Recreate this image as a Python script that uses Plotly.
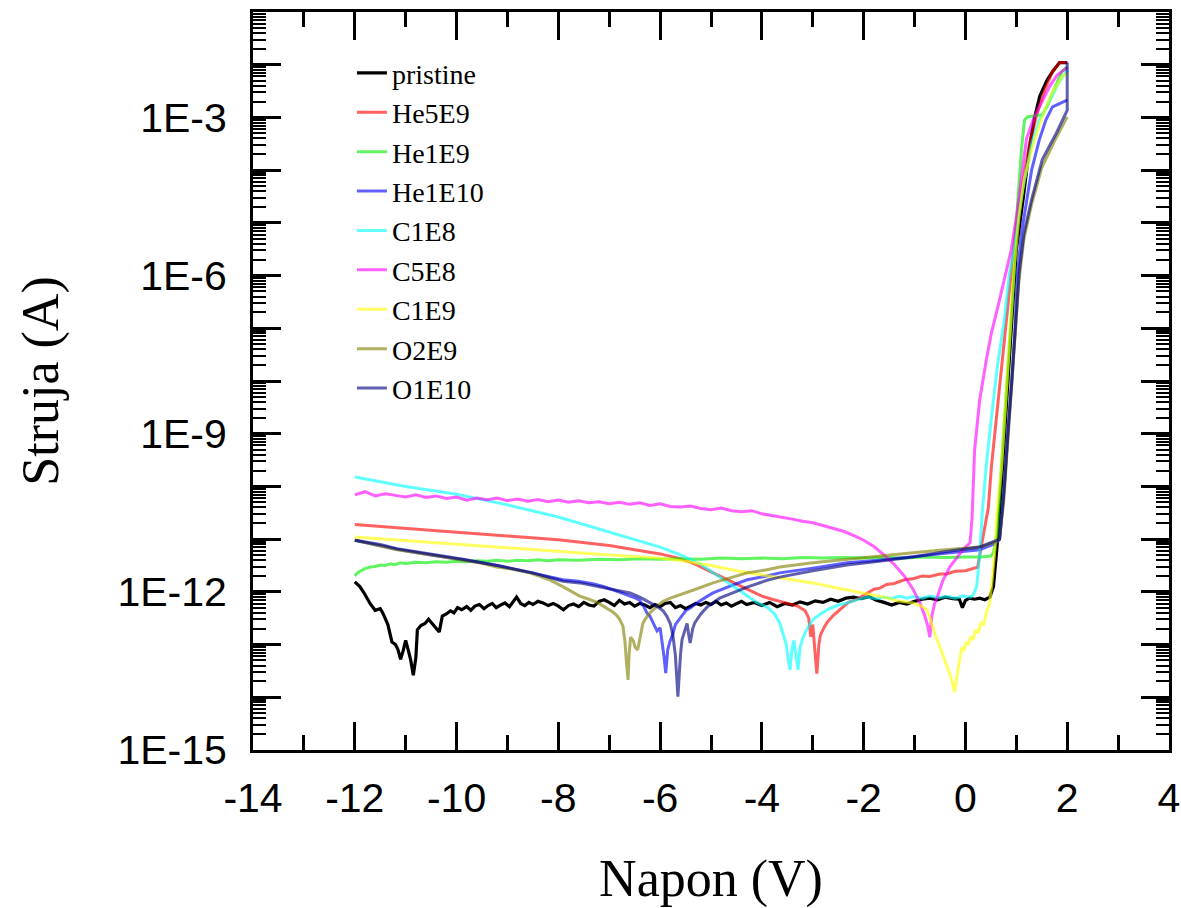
import plotly.graph_objects as go

# ---------------- data: (voltage V, log10 of current A) ----------------
pristine_logI = [
(-12.0,-11.81),(-11.9,-11.9),(-11.8,-12.05),(-11.7,-12.22),(-11.6,-12.35),(-11.5,-12.32),(-11.45,-12.4),(-11.35,-12.62),
(-11.27,-12.95),(-11.2,-13.0),(-11.15,-13.1),(-11.1,-13.28),(-11.05,-13.12),(-11.0,-12.92),(-10.95,-13.1),(-10.9,-13.3),
(-10.85,-13.58),(-10.8,-13.25),(-10.77,-12.72),(-10.7,-12.64),(-10.62,-12.6),(-10.55,-12.52),(-10.48,-12.6),(-10.4,-12.68),
(-10.34,-12.76),(-10.28,-12.46),(-10.2,-12.42),(-10.12,-12.36),(-10.05,-12.4),(-9.98,-12.3),(-9.9,-12.34),(-9.8,-12.28),
(-9.72,-12.35),(-9.64,-12.27),(-9.55,-12.24),(-9.46,-12.32),(-9.38,-12.26),(-9.3,-12.22),(-9.22,-12.3),(-9.14,-12.25),
(-9.05,-12.21),(-8.96,-12.28),(-8.88,-12.18),(-8.82,-12.1),(-8.74,-12.22),(-8.66,-12.26),(-8.58,-12.2),(-8.5,-12.24),
(-8.4,-12.18),(-8.3,-12.21),(-8.2,-12.26),(-8.1,-12.22),(-8.0,-12.27),(-7.9,-12.34),(-7.8,-12.26),(-7.7,-12.23),
(-7.6,-12.28),(-7.5,-12.2),(-7.4,-12.25),(-7.3,-12.27),(-7.2,-12.18),(-7.1,-12.15),(-7.0,-12.2),(-6.9,-12.26),
(-6.8,-12.16),(-6.7,-12.23),(-6.6,-12.2),(-6.5,-12.27),(-6.4,-12.22),(-6.3,-12.25),(-6.2,-12.3),(-6.1,-12.24),
(-6.0,-12.28),(-5.9,-12.22),(-5.8,-12.2),(-5.7,-12.3),(-5.6,-12.26),(-5.5,-12.32),(-5.4,-12.27),(-5.3,-12.22),
(-5.2,-12.25),(-5.1,-12.2),(-5.0,-12.24),(-4.9,-12.18),(-4.8,-12.25),(-4.7,-12.21),(-4.6,-12.27),(-4.5,-12.22),
(-4.4,-12.18),(-4.3,-12.24),(-4.15,-12.2),(-4.0,-12.26),(-3.85,-12.2),(-3.7,-12.28),(-3.55,-12.22),(-3.4,-12.25),
(-3.25,-12.19),(-3.1,-12.23),(-2.95,-12.17),(-2.8,-12.2),(-2.65,-12.14),(-2.5,-12.18),(-2.35,-12.12),(-2.2,-12.1),
(-2.05,-12.13),(-1.9,-12.09),(-1.75,-12.16),(-1.6,-12.2),(-1.45,-12.25),(-1.3,-12.2),(-1.15,-12.23),(-1.0,-12.18),
(-0.85,-12.14),(-0.7,-12.12),(-0.55,-12.15),(-0.4,-12.1),(-0.25,-12.13),(-0.12,-12.14),(-0.06,-12.3),(0.0,-12.16),
(0.08,-12.12),(0.18,-12.14),(0.28,-12.12),(0.38,-12.15),(0.48,-12.1),(0.55,-11.9),(0.6,-11.3),(0.62,-11.15),
(0.72,-9.75),(0.82,-8.3),(0.92,-6.85),(1.0,-5.5),(1.14,-4.5),(1.26,-3.55),(1.36,-3.0),(1.46,-2.6),(1.6,-2.3),
(1.72,-2.12),(1.85,-1.96),(2.0,-1.96)]

he5e9_logI = [
(-12.0,-10.72),(-11.0,-10.8),(-10.0,-10.87),(-9.0,-10.94),(-8.0,-11.01),(-7.0,-11.12),(-6.5,-11.2),(-6.0,-11.28),
(-5.6,-11.37),(-5.3,-11.48),(-5.0,-11.62),(-4.7,-11.76),(-4.4,-11.9),(-4.2,-12.0),(-4.0,-12.08),(-3.8,-12.14),
(-3.5,-12.21),(-3.3,-12.27),(-3.15,-12.36),(-3.08,-12.5),(-3.04,-12.85),(-3.0,-12.62),(-2.96,-13.1),(-2.92,-13.55),
(-2.88,-13.0),(-2.85,-12.82),(-2.78,-12.68),(-2.72,-12.58),(-2.6,-12.45),(-2.47,-12.34),(-2.3,-12.2),(-2.13,-12.14),
(-1.9,-12.0),(-1.8,-11.95),(-1.68,-11.93),(-1.55,-11.86),(-1.4,-11.84),(-1.2,-11.77),(-1.03,-11.75),(-0.85,-11.7),
(-0.7,-11.71),(-0.5,-11.66),(-0.37,-11.66),(-0.2,-11.61),(0.0,-11.6),(0.12,-11.56),(0.24,-11.53),(0.3,-11.2),
(0.38,-10.8),(0.45,-10.4),(0.51,-9.63),(0.61,-8.68),(0.71,-7.73),(0.81,-6.78),(0.9,-5.9),(1.0,-5.0),(1.1,-4.4),
(1.26,-3.5),(1.4,-2.95),(1.55,-2.5),(1.7,-2.15),(1.85,-1.96),(2.0,-1.96)]

he1e9_logI = [
(-12.0,-11.7),(-11.95,-11.64),(-11.88,-11.6),(-11.8,-11.56),(-11.7,-11.53),(-11.6,-11.52),(-11.5,-11.49),(-11.4,-11.5),
(-11.3,-11.47),(-11.2,-11.48),(-11.1,-11.45),(-11.0,-11.46),(-10.8,-11.44),(-10.6,-11.45),(-10.4,-11.43),(-10.2,-11.44),
(-10.0,-11.42),(-9.8,-11.43),(-9.6,-11.41),(-9.4,-11.42),(-9.2,-11.4),(-9.0,-11.42),(-8.8,-11.4),(-8.6,-11.41),
(-8.4,-11.39),(-8.2,-11.41),(-8.0,-11.39),(-7.6,-11.4),(-7.2,-11.38),(-6.8,-11.39),(-6.4,-11.37),(-6.0,-11.38),
(-5.6,-11.37),(-5.2,-11.38),(-4.8,-11.36),(-4.4,-11.37),(-4.0,-11.36),(-3.6,-11.37),(-3.2,-11.35),(-2.8,-11.36),
(-2.4,-11.35),(-2.0,-11.36),(-1.6,-11.35),(-1.2,-11.36),(-0.8,-11.34),(-0.4,-11.35),(0.0,-11.34),(0.3,-11.34),
(0.5,-11.32),(0.55,-11.25),(0.62,-10.9),(0.72,-9.4),(0.82,-7.9),(0.9,-6.7),(0.96,-5.89),(1.02,-4.7),(1.1,-3.62),
(1.16,-3.05),(1.22,-2.99),(1.35,-2.97),(1.51,-2.95),(1.6,-2.8),(1.75,-2.44),(1.89,-2.13),(2.0,-2.04)]

he1e10_logI = [
(-12.0,-11.02),(-11.5,-11.12),(-11.17,-11.19),(-10.5,-11.3),(-9.87,-11.39),(-9.2,-11.5),(-8.9,-11.56),(-8.5,-11.64),
(-8.2,-11.7),(-7.91,-11.77),(-7.6,-11.8),(-7.3,-11.85),(-7.1,-11.9),(-6.93,-11.96),(-6.75,-12.02),(-6.59,-12.08),
(-6.48,-12.12),(-6.4,-12.16),(-6.32,-12.28),(-6.26,-12.4),(-6.2,-12.46),(-6.12,-12.62),(-6.06,-12.74),(-6.0,-12.68),
(-5.96,-12.95),(-5.92,-13.25),(-5.89,-13.54),(-5.85,-13.1),(-5.81,-12.95),(-5.75,-12.8),(-5.7,-12.62),(-5.6,-12.48),
(-5.5,-12.36),(-5.4,-12.3),(-5.28,-12.21),(-5.1,-12.1),(-4.96,-12.02),(-4.6,-11.88),(-4.29,-11.77),(-3.9,-11.7),
(-3.65,-11.64),(-3.0,-11.55),(-2.33,-11.45),(-1.7,-11.4),(-1.03,-11.34),(-0.4,-11.27),(0.28,-11.2),(0.62,-11.07),
(0.67,-11.0),(0.77,-9.93),(0.83,-8.98),(0.91,-8.04),(0.97,-7.09),(1.02,-6.0),(1.1,-5.2),(1.2,-4.6),(1.3,-4.0),
(1.45,-3.43),(1.58,-3.05),(1.71,-2.8),(1.91,-2.7),(2.0,-2.67)]

c1e8_logI = [
(-12.0,-9.82),(-11.0,-10.0),(-10.0,-10.15),(-9.0,-10.35),(-8.0,-10.58),(-7.5,-10.72),(-7.0,-10.86),(-6.5,-11.0),
(-6.0,-11.15),(-5.6,-11.3),(-5.2,-11.48),(-4.83,-11.72),(-4.5,-11.93),(-4.29,-12.08),(-4.1,-12.2),(-3.9,-12.29),
(-3.75,-12.42),(-3.65,-12.59),(-3.58,-12.8),(-3.52,-13.0),(-3.48,-13.3),(-3.45,-13.48),(-3.41,-13.1),(-3.37,-12.92),
(-3.33,-13.2),(-3.29,-13.48),(-3.25,-13.05),(-3.19,-12.86),(-3.1,-12.68),(-3.0,-12.53),(-2.85,-12.42),(-2.72,-12.34),
(-2.5,-12.25),(-2.33,-12.21),(-2.1,-12.14),(-1.94,-12.1),(-1.75,-12.13),(-1.6,-12.1),(-1.45,-12.13),(-1.3,-12.08),
(-1.15,-12.12),(-1.03,-12.09),(-0.85,-12.12),(-0.7,-12.08),(-0.55,-12.11),(-0.37,-12.09),(-0.2,-12.12),(-0.05,-12.08),
(0.1,-12.1),(0.15,-12.06),(0.22,-11.9),(0.28,-11.3),(0.33,-10.5),(0.41,-9.6),(0.51,-8.7),(0.63,-7.7),(0.77,-6.8),
(0.86,-6.0),(0.97,-5.4),(1.1,-4.5),(1.3,-3.5),(1.45,-3.05),(1.6,-2.8),(1.8,-2.4),(2.0,-2.1)]

c5e8_logI = [
(-12.0,-10.16),(-11.8,-10.1),(-11.6,-10.18),(-11.4,-10.14),(-11.2,-10.17),(-11.0,-10.2),(-10.8,-10.16),(-10.6,-10.21),
(-10.4,-10.18),(-10.2,-10.23),(-10.0,-10.2),(-9.8,-10.26),(-9.6,-10.22),(-9.4,-10.25),(-9.2,-10.22),(-9.0,-10.27),
(-8.8,-10.24),(-8.6,-10.28),(-8.4,-10.25),(-8.2,-10.29),(-8.0,-10.26),(-7.8,-10.3),(-7.6,-10.27),(-7.4,-10.31),
(-7.2,-10.29),(-7.0,-10.33),(-6.8,-10.3),(-6.6,-10.34),(-6.4,-10.31),(-6.2,-10.36),(-6.0,-10.33),(-5.8,-10.38),
(-5.6,-10.39),(-5.4,-10.37),(-5.2,-10.42),(-5.0,-10.44),(-4.8,-10.41),(-4.6,-10.46),(-4.4,-10.48),(-4.2,-10.46),
(-4.0,-10.52),(-3.8,-10.55),(-3.6,-10.59),(-3.4,-10.62),(-3.2,-10.66),(-3.0,-10.69),(-2.8,-10.74),(-2.6,-10.79),
(-2.4,-10.85),(-2.2,-10.93),(-2.0,-11.02),(-1.8,-11.14),(-1.6,-11.3),(-1.4,-11.48),(-1.2,-11.7),(-1.03,-11.95),
(-0.9,-12.2),(-0.8,-12.45),(-0.74,-12.65),(-0.7,-12.86),(-0.66,-12.45),(-0.6,-12.2),(-0.56,-12.12),(-0.45,-11.8),
(-0.31,-11.53),(-0.15,-11.33),(-0.05,-11.2),(0.09,-11.07),(0.13,-10.6),(0.18,-9.31),(0.28,-8.36),(0.41,-7.6),
(0.51,-7.09),(0.67,-6.46),(0.83,-5.83),(0.9,-5.51),(1.0,-4.9),(1.1,-4.2),(1.2,-3.4),(1.35,-3.0),(1.5,-2.7),
(1.65,-2.42),(1.8,-2.2),(2.0,-2.05)]

c1e9_logI = [
(-12.0,-10.96),(-11.0,-11.03),(-10.0,-11.1),(-9.0,-11.17),(-8.0,-11.24),(-7.0,-11.3),(-6.0,-11.36),(-5.5,-11.42),
(-5.0,-11.5),(-4.5,-11.6),(-4.0,-11.68),(-3.5,-11.76),(-3.0,-11.83),(-2.5,-11.93),(-2.0,-12.02),(-1.6,-12.1),
(-1.35,-12.17),(-1.03,-12.21),(-0.85,-12.28),(-0.76,-12.34),(-0.68,-12.55),(-0.6,-12.8),(-0.5,-13.05),(-0.4,-13.3),
(-0.31,-13.55),(-0.25,-13.75),(-0.21,-13.9),(-0.16,-13.55),(-0.11,-13.24),(-0.07,-13.05),(-0.03,-13.12),(0.02,-12.95),
(0.06,-13.0),(0.1,-12.85),(0.15,-12.9),(0.2,-12.72),(0.25,-12.78),(0.3,-12.6),(0.36,-12.62),(0.42,-12.35),
(0.47,-12.25),(0.52,-11.83),(0.58,-11.2),(0.62,-10.5),(0.71,-9.63),(0.77,-8.68),(0.83,-7.73),(0.9,-6.78),
(0.96,-5.83),(1.05,-4.9),(1.15,-4.2),(1.3,-3.6),(1.5,-3.0),(1.71,-2.53),(1.9,-2.23),(2.0,-2.15)]

o2e9_logI = [
(-12.0,-11.02),(-11.5,-11.12),(-11.17,-11.2),(-10.5,-11.3),(-9.87,-11.4),(-9.5,-11.46),(-9.21,-11.53),(-8.9,-11.57),
(-8.56,-11.64),(-8.2,-11.76),(-7.91,-11.9),(-7.75,-11.98),(-7.58,-12.08),(-7.4,-12.14),(-7.24,-12.2),(-7.1,-12.28),
(-6.93,-12.38),(-6.85,-12.45),(-6.79,-12.53),(-6.73,-12.65),(-6.69,-12.95),(-6.66,-13.35),(-6.63,-13.67),(-6.61,-13.2),
(-6.58,-12.86),(-6.53,-12.92),(-6.49,-13.05),(-6.44,-13.1),(-6.39,-12.85),(-6.34,-12.6),(-6.28,-12.5),(-6.2,-12.4),
(-6.07,-12.28),(-5.94,-12.18),(-5.8,-12.12),(-5.61,-12.06),(-5.3,-11.95),(-4.96,-11.83),(-4.6,-11.73),(-4.29,-11.64),
(-3.9,-11.58),(-3.65,-11.53),(-3.0,-11.45),(-2.33,-11.39),(-1.7,-11.32),(-1.03,-11.26),(-0.4,-11.2),(0.28,-11.15),
(0.62,-11.05),(0.67,-11.0),(0.75,-10.3),(0.83,-9.2),(0.91,-8.2),(0.98,-7.1),(1.05,-6.1),(1.15,-5.3),(1.3,-4.65),
(1.5,-3.95),(1.75,-3.45),(2.0,-2.99)]

o1e10_logI = [
(-12.0,-11.02),(-11.5,-11.1),(-11.17,-11.18),(-10.5,-11.28),(-9.87,-11.38),(-9.2,-11.5),(-8.89,-11.56),(-8.5,-11.64),
(-8.2,-11.72),(-7.91,-11.8),(-7.58,-11.83),(-7.2,-11.9),(-6.9,-11.96),(-6.59,-12.02),(-6.4,-12.1),(-6.2,-12.2),
(-6.06,-12.28),(-5.94,-12.36),(-5.87,-12.46),(-5.8,-12.6),(-5.75,-12.82),(-5.7,-13.2),(-5.65,-13.99),(-5.6,-13.2),
(-5.57,-12.91),(-5.52,-12.75),(-5.47,-12.6),(-5.44,-12.8),(-5.41,-12.97),(-5.36,-12.7),(-5.32,-12.59),(-5.2,-12.42),
(-5.08,-12.29),(-4.83,-12.12),(-4.5,-11.99),(-4.29,-11.91),(-3.9,-11.78),(-3.65,-11.72),(-3.0,-11.6),(-2.33,-11.49),
(-1.7,-11.42),(-1.03,-11.34),(-0.4,-11.24),(0.28,-11.15),(0.62,-11.02),(0.67,-11.0),(0.75,-10.2),(0.83,-9.1),
(0.91,-8.1),(0.98,-7.0),(1.06,-5.9),(1.15,-5.2),(1.3,-4.56),(1.51,-3.8),(1.79,-3.29),(2.0,-2.86),(2.0,-1.96)]

series_names = ["pristine", "He5E9", "He1E9", "He1E10", "C1E8", "C5E8", "C1E9", "O2E9", "O1E10"]
series_data = [pristine_logI, he5e9_logI, he1e9_logI, he1e10_logI, c1e8_logI, c5e8_logI, c1e9_logI, o2e9_logI, o1e10_logI]
series_colors = ["#000000", "#ff0000", "#00ee00", "#0000ff", "#00ffff", "#ff00ff", "#ffff00", "#808000", "#000080"]
series_opacity = [1.0, 0.62, 0.62, 0.62, 0.62, 0.62, 0.62, 0.62, 0.62]

x_tick_vals = [-14, -12, -10, -8, -6, -4, -2, 0, 2, 4]
x_tick_text = ["-14", "-12", "-10", "-8", "-6", "-4", "-2", "0", "2", "4"]
y_decades = list(range(-15, 0))
y_label_decades = [-15, -12, -9, -6, -3]

# ---------------- figure ----------------
fig = go.Figure()
for i, (name, data, color, op) in enumerate(zip(series_names, series_data, series_colors, series_opacity)):
    fig.add_trace(go.Scatter(
        x=[p[0] for p in data],
        y=[10 ** p[1] for p in data],
        mode="lines",
        name=name,
        legendgroup=name,
        opacity=op,
        line=dict(color=color, width=3.2 if i == 0 else 3),
    ))

y_tickvals = [10.0 ** k for k in y_decades]
y_ticktext = [("1E%d" % k) if k in y_label_decades else "" for k in y_decades]
y_minor = [m * 10.0 ** k for k in y_decades[:-1] for m in range(2, 10)]
x_minor = [v + 1 for v in x_tick_vals[:-1]]

tick_font = dict(family="Liberation Sans, Arial, sans-serif", size=41, color="black")
title_font = dict(family="Liberation Serif, Times New Roman, serif", size=52, color="black")

fig.update_layout(
    width=1181, height=908,
    margin=dict(l=253, r=12, t=12, b=158),
    paper_bgcolor="white", plot_bgcolor="white",
    showlegend=True,
    legend=dict(
        x=0.108, y=0.951, xanchor="left", yanchor="top",
        font=dict(family="Liberation Serif, Times New Roman, serif", size=28, color="black"),
        bgcolor="rgba(0,0,0,0)", borderwidth=0, tracegroupgap=0,
    ),
    xaxis=dict(
        range=[-14, 4], tickmode="array", tickvals=x_tick_vals, ticktext=x_tick_text,
        ticks="inside", ticklen=28, tickwidth=2.5, tickcolor="black",
        showline=True, linewidth=3, linecolor="black", mirror="ticks",
        showgrid=False, zeroline=False, automargin=False,
        tickfont=tick_font, ticklabelstandoff=10,
        minor=dict(tickmode="array", tickvals=x_minor, ticks="inside", ticklen=15, tickwidth=2.5, tickcolor="black"),
        title=dict(text="Napon (V)", font=title_font, standoff=45),
    ),
    yaxis=dict(
        type="log", range=[-15, -1], tickmode="array", tickvals=y_tickvals, ticktext=y_ticktext,
        ticks="inside", ticklen=28, tickwidth=2.5, tickcolor="black",
        showline=True, linewidth=3, linecolor="black", mirror="ticks",
        showgrid=False, zeroline=False, automargin=False,
        tickfont=tick_font, ticklabelstandoff=15,
        minor=dict(tickmode="array", tickvals=y_minor, ticks="inside", ticklen=13, tickwidth=2, tickcolor="black"),
        title=dict(text="Struja (A)", font=title_font, standoff=43),
    ),
)

# remove the browser's default 8px page margin so the figure fills the window exactly
fig.write_html("out.html", config={"displayModeBar": False},
               post_script="document.body.style.margin='0px';")
